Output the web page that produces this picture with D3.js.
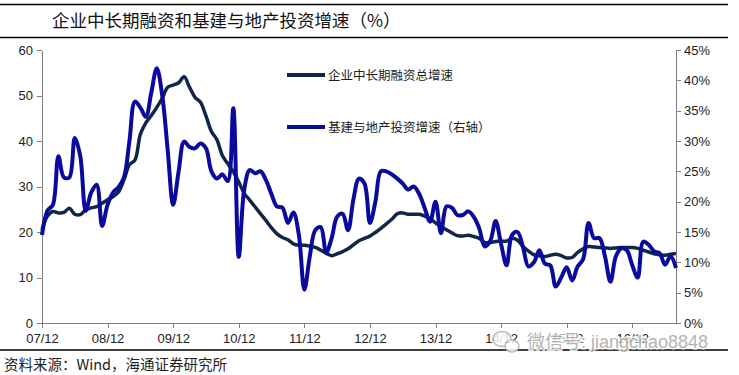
<!DOCTYPE html>
<html>
<head>
<meta charset="utf-8">
<script src="https://cdn.jsdelivr.net/npm/d3@7"></script>
<style>
  body { margin: 0; background: #fff; }
  text { font-family: "Liberation Sans", Arial, sans-serif; }
  .cjk { font-family: "Noto Sans CJK SC", sans-serif; }
  .axis path, .axis line { stroke: #808080; shape-rendering: crispEdges; }
  .axis text { fill: #222; font-size: 13px; font-family: "Liberation Sans", Arial, sans-serif; }
</style>
</head>
<body>
<div id="chart"></div>
<script>
var svgWidth = 739;
var svgHeight = 375;

var margin = { top: 50, right: 63, bottom: 52, left: 42 };
var width = svgWidth - margin.left - margin.right;
var height = svgHeight - margin.top - margin.bottom;

// monthly categories, 07/12 .. 17/08
var months = d3.timeMonth.range(new Date(2007, 11, 1), new Date(2017, 8, 1))
  .map(d3.timeFormat("%y/%m"));

var tickLabels = ["07/12", "08/12", "09/12", "10/12", "11/12", "12/12", "13/12", "14/12", "15/12", "16/12"];

var leftTicks = [0, 10, 20, 30, 40, 50, 60];
var rightTicks = [0, 5, 10, 15, 20, 25, 30, 35, 40, 45];

// 企业中长期融资总增速 (left axis)
var financing = [
  20.5, 23.5, 24.5, 24.2, 24.3, 25.2, 23.9, 23.8, 24.9, 25.3, 25.6, 26.3,
  27.1, 27.8, 28.8, 31.5, 34.8, 35.8, 41.5, 44.0, 45.6, 47.4, 49.4, 51.8,
  52.3, 52.8, 54.1, 51.8, 49.6, 48.5, 45.5, 42.1, 40.3, 36.8, 35.0, 33.3,
  31.0, 28.5, 27.0, 25.5, 24.0, 22.5, 20.9, 19.6, 18.8, 18.3, 17.4, 17.1,
  17.1, 16.9, 16.6, 16.0, 15.3, 14.8, 15.2, 15.7, 16.3, 17.2, 18.1, 18.6,
  19.1, 19.9, 20.8, 21.8, 22.8, 24.0, 24.2, 23.9, 23.9, 23.9, 23.5, 22.9,
  22.0, 21.2, 20.5, 19.8, 19.2, 19.1, 19.3, 19.0, 18.6, 17.7, 17.7, 17.9,
  18.0, 18.0, 18.6, 18.2, 16.8, 15.8, 15.0, 14.8, 14.6, 14.9, 15.1, 14.8,
  14.3, 14.4, 15.5, 16.3, 16.8, 16.7, 16.6, 16.5, 16.4, 16.5, 16.6, 16.6,
  16.6, 16.4, 16.0, 15.6, 15.2, 15.0, 14.9, 15.1, 15.3
];

// 基建与地产投资增速 (right axis, %)
var investment = [
  14.5, 18.5, 19.5, 27.5, 24.0, 24.0, 30.5, 27.5, 18.5, 21.5, 22.8, 16.0,
  19.5, 21.5, 22.4, 24.0, 30.0, 36.5, 35.5, 34.0, 38.0, 42.0, 37.5, 28.5,
  19.5, 25.0, 29.9, 29.0, 28.8, 29.6, 28.8, 25.0, 23.8, 24.5, 23.4, 35.4,
  10.9, 22.0, 25.2, 24.7, 25.0, 23.5, 21.2, 19.2, 19.0, 16.5, 18.2, 14.5,
  5.5, 11.0, 15.3, 15.8, 11.6, 14.0, 17.5, 18.0, 15.3, 20.5, 23.8, 23.0,
  16.5, 20.0, 25.0, 25.0, 24.5, 23.8, 23.0, 22.0, 22.5, 21.3, 19.0, 16.7,
  20.0, 14.8, 19.2, 19.0, 17.8, 17.8, 18.4, 17.5, 15.6, 12.6, 13.5, 16.8,
  13.0, 9.5, 14.5, 15.0, 12.5, 9.3, 10.0, 12.0, 9.8, 9.5, 6.0, 7.5,
  9.2, 7.0, 9.3, 10.5, 16.5, 14.0, 14.0, 11.0, 6.8, 11.0, 12.3, 12.0,
  9.5, 7.5, 13.4, 12.9, 11.8, 11.5, 9.6, 11.0, 9.1
];

var seriesNames = ["企业中长期融资总增速", "基建与地产投资增速（右轴）"];
var seriesColors = ["#102845", "#0a0a9e"];

var svg = d3.select("#chart")
  .append("svg")
  .attr("width", svgWidth)
  .attr("height", svgHeight);

// frame lines and title
svg.append("line").attr("x1", 0).attr("x2", 728).attr("y1", 4.5).attr("y2", 4.5)
  .attr("stroke", "#000").attr("stroke-width", 1.5);
svg.append("line").attr("x1", 0).attr("x2", 728).attr("y1", 37.5).attr("y2", 37.5)
  .attr("stroke", "#000").attr("stroke-width", 1.5);
svg.append("line").attr("x1", 0).attr("x2", 728).attr("y1", 350).attr("y2", 350)
  .attr("stroke", "#000").attr("stroke-width", 1.5);

svg.append("text")
  .attr("class", "cjk")
  .attr("x", 52)
  .attr("y", 27)
  .attr("font-size", 17.5)
  .attr("fill", "#111")
  .text("企业中长期融资和基建与地产投资增速（%）");

svg.append("text")
  .attr("class", "cjk")
  .attr("x", 4)
  .attr("y", 370)
  .attr("font-size", 14.5)
  .attr("fill", "#222")
  .text("资料来源：Wind，海通证券研究所");

var chartGroup = svg.append("g")
  .attr("transform", `translate(${margin.left}, ${margin.top})`);

// scales
var xScale = d3.scalePoint().domain(months).range([0, width]);
var yLeft = d3.scaleLinear().domain([0, 60]).range([height, 0]);
var yRight = d3.scaleLinear().domain([0, 45]).range([height, 0]);

// axes
chartGroup.append("g")
  .attr("class", "axis")
  .attr("transform", `translate(0, ${height})`)
  .call(d3.axisBottom(xScale).tickValues(tickLabels).tickSize(5).tickSizeOuter(0).tickPadding(6));

chartGroup.append("g")
  .attr("class", "axis")
  .call(d3.axisLeft(yLeft).tickValues(leftTicks).tickSize(5).tickSizeOuter(0).tickPadding(4));

chartGroup.append("g")
  .attr("class", "axis")
  .attr("transform", `translate(${width}, 0)`)
  .call(d3.axisRight(yRight).tickValues(rightTicks).tickFormat(d => d + "%").tickSize(5).tickSizeOuter(0).tickPadding(3));

// lines
var leftLine = d3.line()
  .x((d, i) => xScale(months[i]))
  .y(d => yLeft(d))
  .curve(d3.curveCatmullRom.alpha(0.5));

var rightLine = d3.line()
  .x((d, i) => xScale(months[i]))
  .y(d => yRight(d))
  .curve(d3.curveCatmullRom.alpha(0.5));

chartGroup.append("path")
  .datum(financing)
  .attr("d", leftLine)
  .attr("fill", "none")
  .attr("stroke", seriesColors[0])
  .attr("stroke-width", 3.5)
  .attr("stroke-linejoin", "round");

chartGroup.append("path")
  .datum(investment)
  .attr("d", rightLine)
  .attr("fill", "none")
  .attr("stroke", seriesColors[1])
  .attr("stroke-width", 4)
  .attr("stroke-linejoin", "round");

// legend
var legend = svg.append("g");
seriesNames.forEach(function(name, i) {
  var y = 75 + i * 52;
  legend.append("line")
    .attr("x1", 287).attr("x2", 325)
    .attr("y1", y).attr("y2", y)
    .attr("stroke", seriesColors[i])
    .attr("stroke-width", 4);
  legend.append("text")
    .attr("class", "cjk")
    .attr("x", 328)
    .attr("y", y + 4.5)
    .attr("font-size", 12.5)
    .attr("fill", "#222")
    .text(name);
});

// watermark (sits over the 14/12 and 15/12 labels, as in the source image)
var wm = svg.append("g").attr("opacity", 0.85);
wm.append("ellipse").attr("cx", 502).attr("cy", 339).attr("rx", 9).attr("ry", 7.5)
  .attr("fill", "#fff").attr("stroke", "#b0b0b0").attr("stroke-width", 1.5);
wm.append("ellipse").attr("cx", 512).attr("cy", 346).attr("rx", 7).attr("ry", 6)
  .attr("fill", "#fff").attr("stroke", "#b0b0b0").attr("stroke-width", 1.5);
wm.append("text")
  .attr("x", 527)
  .attr("y", 348)
  .attr("font-size", 18)
  .attr("fill", "#a8a8a8")
  .attr("stroke", "#fff")
  .attr("stroke-width", 3)
  .attr("paint-order", "stroke")
  .html('<tspan class="cjk">微信号</tspan>: jiangchao8848');
</script>
</body>
</html>
